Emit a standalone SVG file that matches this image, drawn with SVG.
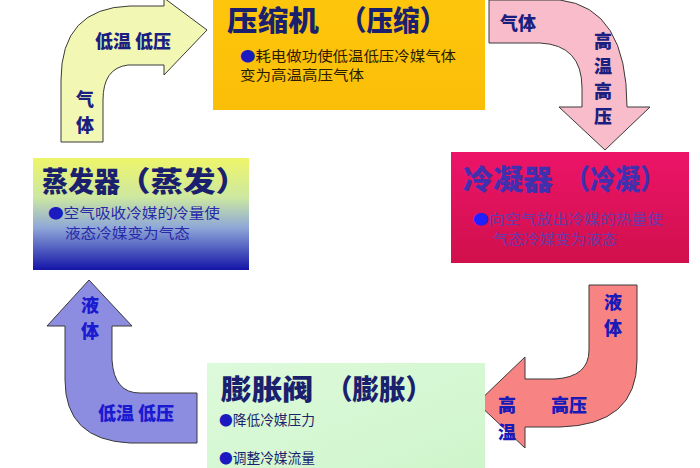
<svg xmlns="http://www.w3.org/2000/svg" width="700" height="468" viewBox="0 0 700 468">
<defs>
<style>
.title{font-family:"Noto Sans CJK SC","Noto Sans",sans-serif;font-weight:900;font-size:28px;fill:#1a1f6e}
.sub{font-family:"Noto Sans CJK SC","Noto Sans",sans-serif;font-size:14px}
.lab{font-family:"Noto Sans CJK SC","Noto Sans",sans-serif;font-weight:900;font-size:18px;fill:#1a1f80}
.arrow{stroke:#3a3a3a;stroke-width:1}
.dot{fill:#1a1ac0}
</style>
<linearGradient id="gEvap" x1="0" y1="0" x2="0" y2="1">
<stop offset="0" stop-color="#EEF56A"/>
<stop offset="0.35" stop-color="#CDE8A0"/>
<stop offset="0.62" stop-color="#8FA8D8"/>
<stop offset="1" stop-color="#1414A8"/>
</linearGradient>
<linearGradient id="gCond" x1="0" y1="0" x2="0" y2="1">
<stop offset="0" stop-color="#EC1468"/>
<stop offset="1" stop-color="#D0104C"/>
</linearGradient>
<linearGradient id="gComp" x1="0" y1="0" x2="0" y2="1">
<stop offset="0" stop-color="#FDC60C"/>
<stop offset="1" stop-color="#FBBE08"/>
</linearGradient>
<linearGradient id="gExp" x1="0" y1="0" x2="1" y2="1">
<stop offset="0" stop-color="#DDFADA"/>
<stop offset="1" stop-color="#CFF5CC"/>
</linearGradient>
</defs>

<g id="connectors">
<path class="arrow" fill="#F2F8B4" d="M61,142 L61,80 Q61,8 130,6 L164,6 L164,-2 L207,30 L164,75 L164,65 L128,65 Q103,68 103,100 L103,142 Z"/>
<path class="arrow" fill="#F8BCCB" d="M489,0 L560,0 Q627,8 627,107 L650,107 L605,150 L559,107 L582,107 L582,88 Q582,45 540,43 L489,43 Z"/>
<path class="arrow" fill="#F88383" d="M589,285 L637,285 L637,360 Q637,425 560,427 L525,427 L525,448 L477,403 L525,357 L525,379 L555,379 Q589,377 589,350 Z"/>
<path class="arrow" fill="#8C8CE0" d="M89,280 L132,326 L112,326 L112,360 Q114,393 140,393 L197,393 L197,443 L130,443 Q65,440 65,380 L65,326 L47,326 Z"/>
<text class="lab" x="95" y="48">低温 低压</text>
<text class="lab" x="76" y="106">气</text>
<text class="lab" x="76" y="132">体</text>
<text class="lab" x="500" y="30">气体</text>
<text class="lab" x="594" y="48" font-size="17">高</text>
<text class="lab" x="594" y="73" font-size="17">温</text>
<text class="lab" x="594" y="98" font-size="17">高</text>
<text class="lab" x="594" y="123" font-size="17">压</text>
<text class="lab" x="604" y="309" style="fill:#1a1ab8">液</text>
<text class="lab" x="604" y="335" style="fill:#1a1ab8">体</text>
<text class="lab" x="551" y="412" style="fill:#1a1ab8">高压</text>
<text class="lab" x="498" y="412" style="fill:#1a1ab8">高</text>
<text class="lab" x="498" y="439" style="fill:#1a1ab8">温</text>
<text class="lab" x="81" y="312" style="fill:#1a1ad0">液</text>
<text class="lab" x="81" y="338" style="fill:#1a1ad0">体</text>
<text class="lab" x="98" y="420" style="fill:#1a1ad0">低温 低压</text>
</g>

<g id="compressor">
<rect x="213" y="0" width="272" height="110" fill="url(#gComp)"/>
<text class="title" x="227" y="31" font-size="30" textLength="92" lengthAdjust="spacingAndGlyphs">压缩机</text>
<text class="title" x="340" y="31" font-size="30" textLength="106" lengthAdjust="spacingAndGlyphs">（压缩）</text>
<text class="sub" x="240" y="61" fill="#2a1a00" textLength="216" lengthAdjust="spacingAndGlyphs"><tspan class="dot">●</tspan>耗电做功使低温低压冷媒气体</text>
<text class="sub" x="240" y="80" fill="#2a1a00" textLength="124" lengthAdjust="spacingAndGlyphs">变为高温高压气体</text>
</g>

<g id="condenser">
<rect x="451" y="152" width="238" height="111" fill="url(#gCond)"/>
<text class="title" x="463" y="190" font-size="28" style="fill:#4030B0" textLength="90" lengthAdjust="spacingAndGlyphs">冷凝器</text>
<text class="title" x="565" y="190" font-size="28" style="fill:#4030B0" textLength="100" lengthAdjust="spacingAndGlyphs">（冷凝）</text>
<text class="sub" x="473" y="224" font-size="13" fill="#6a3aa8" textLength="190" lengthAdjust="spacingAndGlyphs"><tspan fill="#2020ff">●</tspan>向空气放出冷媒的热量使</text>
<text class="sub" x="493" y="244" font-size="13" fill="#6a3aa8" textLength="124" lengthAdjust="spacingAndGlyphs">气态冷媒变为液态</text>
</g>

<g id="evaporator">
<rect x="33" y="158" width="216" height="112" fill="url(#gEvap)"/>
<text class="title" x="42" y="192" font-size="28" textLength="78" lengthAdjust="spacingAndGlyphs">蒸发器</text>
<text class="title" x="118" y="192" font-size="28" textLength="130" lengthAdjust="spacingAndGlyphs">（蒸发）</text>
<text class="sub" x="48" y="218" fill="#2828a8" textLength="172" lengthAdjust="spacingAndGlyphs"><tspan class="dot">●</tspan>空气吸收冷媒的冷量使</text>
<text class="sub" x="65" y="238" fill="#2828a8" textLength="125" lengthAdjust="spacingAndGlyphs">液态冷媒变为气态</text>
</g>

<g id="expansion">
<rect x="207" y="363" width="278" height="105" fill="url(#gExp)"/>
<text class="title" x="221" y="400" font-size="30" textLength="92" lengthAdjust="spacingAndGlyphs">膨胀阀</text>
<text class="title" x="326" y="400" font-size="30" textLength="106" lengthAdjust="spacingAndGlyphs">（膨胀）</text>
<text class="sub" x="219" y="425" fill="#1a1f6e" textLength="96" lengthAdjust="spacingAndGlyphs"><tspan class="dot">●</tspan>降低冷媒压力</text>
<text class="sub" x="219" y="463" fill="#1a1f6e" textLength="96" lengthAdjust="spacingAndGlyphs"><tspan class="dot">●</tspan>调整冷媒流量</text>
</g>
</svg>
